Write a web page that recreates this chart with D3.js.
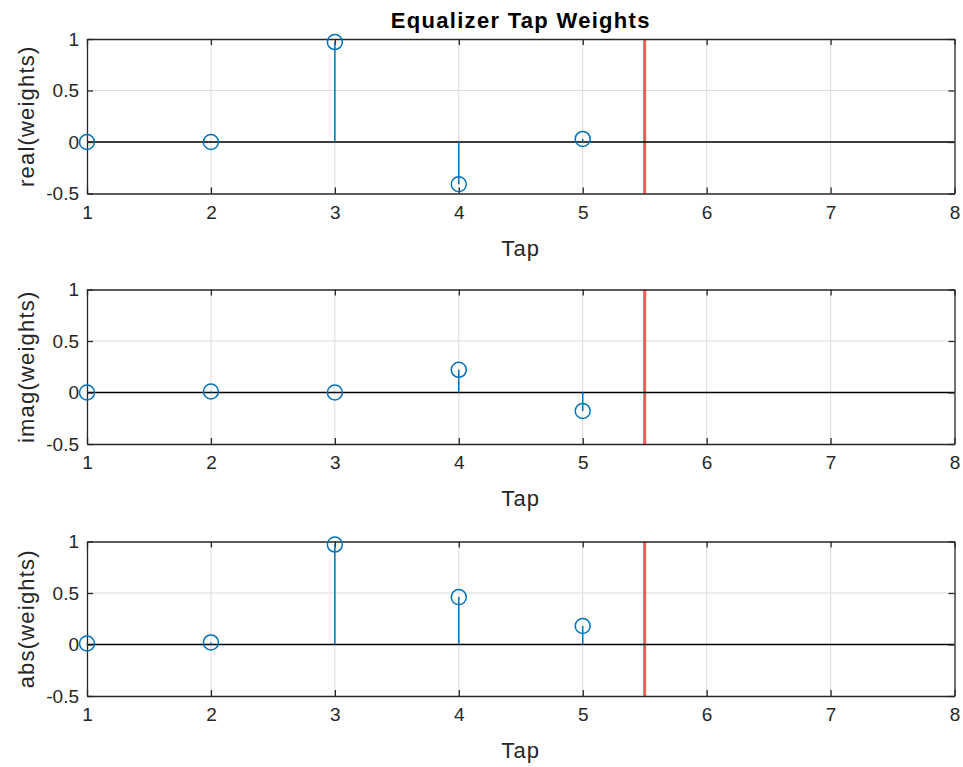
<!DOCTYPE html>
<html>
<head>
<meta charset="utf-8">
<script src="https://cdn.jsdelivr.net/npm/d3@7"></script>
<style>
  html, body { margin: 0; padding: 0; background: #fff; }
  svg { display: block; }
</style>
</head>
<body>
<svg id="chart" width="963" height="767"></svg>
<script>
// ---- data ----
const taps = [1, 2, 3, 4, 5];
const realWeights = [0.0, 0.0, 0.97, -0.41, 0.03];
const imagWeights = [0.0, 0.01, 0.0, 0.22, -0.18];
const absWeights  = [0.01, 0.02, 0.97, 0.46, 0.18];
const xTicks = [1, 2, 3, 4, 5, 6, 7, 8];
const yTicks = [-0.5, 0, 0.5, 1];
const yTickLabels = ["-0.5", "0", "0.5", "1"];
const markerX = 5.5;
const panelLabels = ["real(weights)", "imag(weights)", "abs(weights)"];
const panelSeries = [realWeights, imagWeights, absWeights];
const titleText = "Equalizer Tap Weights";
const xLabelText = "Tap";

// ---- layout ----
const svg = d3.select("#chart");
const left = 87, right = 954.5, panelH = 154.5;
const panelTops = [39, 289.5, 541.5];
const font = "'Liberation Sans', Arial, Helvetica, sans-serif";
const axisColor = "#262626";
const blue = "#0072BD";

const x = d3.scaleLinear().domain([1, 8]).range([left, right]);

svg.append("text")
  .attr("x", (left + right) / 2).attr("y", 28)
  .attr("text-anchor", "middle")
  .attr("font-family", font).attr("font-weight", "bold")
  .attr("font-size", 22).attr("letter-spacing", 1.3).attr("fill", "#000")
  .text(titleText);

panelSeries.forEach((vals, i) => {
  const top = panelTops[i];
  const y = d3.scaleLinear().domain([-0.5, 1]).range([top + panelH, top]);
  const g = svg.append("g");

  // grid
  g.selectAll(".gx").data(xTicks.slice(1, -1)).join("line")
    .attr("x1", d => x(d)).attr("x2", d => x(d))
    .attr("y1", top).attr("y2", top + panelH)
    .attr("stroke", "#dcdcdc").attr("stroke-width", 1);
  g.selectAll(".gy").data(yTicks.slice(1, -1)).join("line")
    .attr("x1", left).attr("x2", right)
    .attr("y1", d => y(d)).attr("y2", d => y(d))
    .attr("stroke", "#dcdcdc").attr("stroke-width", 1);

  // red vertical marker
  g.append("line")
    .attr("x1", x(markerX)).attr("x2", x(markerX))
    .attr("y1", top).attr("y2", top + panelH)
    .attr("stroke", "#ff3b3b").attr("stroke-opacity", 0.85).attr("stroke-width", 3);

  // baseline at zero
  g.append("line")
    .attr("x1", left).attr("x2", right)
    .attr("y1", y(0)).attr("y2", y(0))
    .attr("stroke", "#000").attr("stroke-width", 1.3);

  // axes with inward ticks (box on)
  const xb = d3.axisBottom(x).tickValues(xTicks).tickSizeInner(-6).tickSizeOuter(0).tickPadding(12).tickFormat(d3.format("d"));
  const xt = d3.axisTop(x).tickValues(xTicks).tickSizeInner(-6).tickSizeOuter(0).tickFormat("");
  const yl = d3.axisLeft(y).tickValues(yTicks).tickSizeInner(-6).tickSizeOuter(0).tickPadding(8).tickFormat((d, j) => yTickLabels[j]);
  const yr = d3.axisRight(y).tickValues(yTicks).tickSizeInner(-6).tickSizeOuter(0).tickFormat("");

  [[xb, `translate(0,${top + panelH})`], [xt, `translate(0,${top})`],
   [yl, `translate(${left},0)`], [yr, `translate(${right},0)`]].forEach(([ax, tr]) => {
    const a = g.append("g").attr("transform", tr).call(ax);
    a.select(".domain").attr("stroke", axisColor).attr("stroke-width", 1.3);
    a.selectAll(".tick line").attr("stroke", axisColor).attr("stroke-width", 1.3);
    a.selectAll(".tick text").attr("fill", axisColor).attr("font-family", font).attr("font-size", 19);
  });

  // stems
  g.selectAll(".stem").data(taps).join("line")
    .attr("x1", d => x(d)).attr("x2", d => x(d))
    .attr("y1", y(0)).attr("y2", (d, j) => y(vals[j]))
    .attr("stroke", blue).attr("stroke-width", 1.5);
  g.selectAll(".mk").data(taps).join("circle")
    .attr("cx", d => x(d)).attr("cy", (d, j) => y(vals[j]))
    .attr("r", 7.5).attr("fill", "none")
    .attr("stroke", blue).attr("stroke-width", 1.5);

  // labels
  svg.append("text")
    .attr("x", (left + right) / 2).attr("y", top + panelH + 62)
    .attr("text-anchor", "middle")
    .attr("font-family", font).attr("font-size", 22).attr("letter-spacing", 1.2).attr("fill", axisColor)
    .text(xLabelText);
  svg.append("text")
    .attr("transform", `translate(33.5,${top + panelH / 2}) rotate(-90)`)
    .attr("text-anchor", "middle")
    .attr("font-family", font).attr("font-size", 22).attr("letter-spacing", 1.2).attr("fill", axisColor)
    .text(panelLabels[i]);
});
</script>
</body>
</html>
